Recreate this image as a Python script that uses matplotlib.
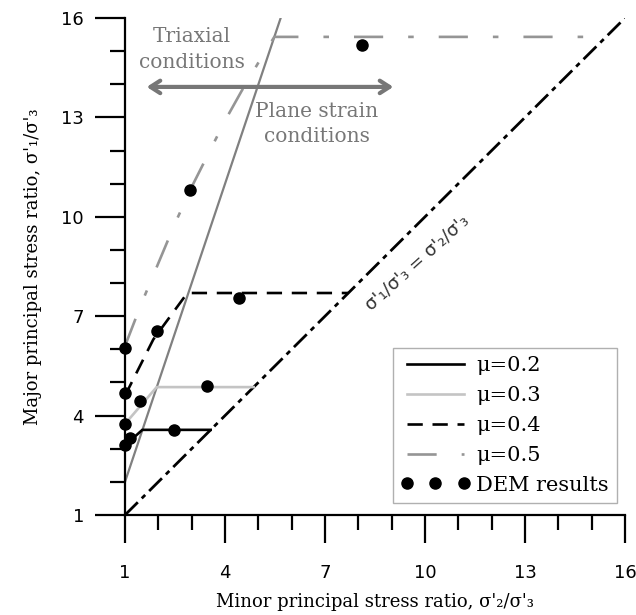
import matplotlib
matplotlib.use("Agg")
import matplotlib.pyplot as plt
from matplotlib.ticker import FixedLocator

plt.rcParams['lines.scale_dashes'] = False

# ---- data ----
diag_x = [1.0, 16.0]
diag_y = [1.0, 16.0]
ps_x = [1.0, 5.67]
ps_y = [2.0, 16.0]

mu02_x = [1.0, 1.52, 3.57]
mu02_y = [3.1, 3.57, 3.57]
mu03_x = [1.0, 1.95, 4.86]
mu03_y = [3.75, 4.86, 4.86]
mu04_x = [1.0, 1.85, 2.87, 7.7]
mu04_y = [4.6, 6.3, 7.7, 7.7]
mu05_x = [1.0, 1.5, 2.0, 2.5, 3.0, 3.5, 4.0, 4.5, 5.0, 5.48, 15.43]
mu05_y = [6.1, 7.4, 8.6, 9.8, 10.9, 11.9, 12.9, 13.8, 14.65, 15.43, 15.43]

dem_x = [1.0, 1.15, 1.0, 1.45, 1.0, 1.0, 1.96, 2.47, 3.46, 4.42, 2.95, 8.11]
dem_y = [3.1, 3.32, 3.75, 4.44, 4.68, 6.04, 6.55, 3.57, 4.9, 7.55, 10.81, 15.19]

major_ticks = [1, 4, 7, 10, 13, 16]
minor_ticks = list(range(1, 17))

serif = ['DejaVu Serif']
sans = ['DejaVu Sans']

fig = plt.figure(figsize=(6.36, 6.15), dpi=100)
ax = fig.add_axes([125/636, 100/615, 500/636, 497/615])

ax.plot(diag_x, diag_y, color='black', lw=2.0, linestyle=(0, (13, 4, 3.5, 4)),
        solid_capstyle='butt', dash_capstyle='butt')
ax.plot(ps_x, ps_y, color='#808080', lw=1.6)

ax.plot(mu02_x, mu02_y, color='black', lw=1.9, label='μ=0.2')
ax.plot(mu03_x, mu03_y, color='#c4c4c4', lw=1.9, label='μ=0.3')
ax.plot(mu04_x, mu04_y, color='black', lw=1.9, linestyle=(0, (11, 7)),
        dash_capstyle='butt', label='μ=0.4')
ax.plot(mu05_x, mu05_y, color='#959595', lw=1.9, linestyle=(0, (21, 18, 4, 18)),
        dash_capstyle='butt', label='μ=0.5')
ax.plot(dem_x, dem_y, 'o', color='black', markersize=8, linestyle='none',
        label='DEM results', clip_on=False, zorder=5)

ax.set_xlim(1, 16)
ax.set_ylim(1, 16)
for s in ['top', 'right']:
    ax.spines[s].set_visible(False)
for s in ['left', 'bottom']:
    ax.spines[s].set_linewidth(1.6)

ax.xaxis.set_major_locator(FixedLocator(major_ticks))
ax.yaxis.set_major_locator(FixedLocator(major_ticks))
ax.xaxis.set_minor_locator(FixedLocator(minor_ticks))
ax.yaxis.set_minor_locator(FixedLocator(minor_ticks))
ax.tick_params(axis='x', which='major', direction='out', length=20, width=1.6, pad=15, labelsize=13)
ax.tick_params(axis='x', which='minor', direction='out', length=11, width=1.6)
ax.tick_params(axis='y', which='major', direction='out', length=21.5, width=1.6, pad=8, labelsize=13)
ax.tick_params(axis='y', which='minor', direction='out', length=11, width=1.6)
for lab in ax.get_xticklabels() + ax.get_yticklabels():
    lab.set_family(sans)

ax.set_xlabel("Minor principal stress ratio, σ'₂/σ'₃", family=serif, fontsize=13, labelpad=8)
ax.set_ylabel("Major principal stress ratio, σ'₁/σ'₃", family=serif, fontsize=13, labelpad=14)

# annotations
ax.annotate('', xy=(1.65, 13.92), xytext=(9.05, 13.92),
            arrowprops=dict(arrowstyle='<->,head_length=0.7,head_width=0.45',
                            color='#777777', lw=3, shrinkA=0, shrinkB=0))
ax.text(3.0, 15.06, 'Triaxial\nconditions', family=serif, fontsize=14.5, color='#777777',
        ha='center', va='center', linespacing=1.45)
ax.text(6.76, 12.8, 'Plane strain\nconditions', family=serif, fontsize=14.5, color='#777777',
        ha='center', va='center', linespacing=1.38)
ax.text(9.75, 8.62, "σ'₁/σ'₃ = σ'₂/σ'₃", family=sans, fontsize=13, color='#333333',
        ha='center', va='center', rotation=42, rotation_mode='anchor')

leg = ax.legend(loc='lower right', bbox_to_anchor=(0.984, 0.024), numpoints=3,
                prop={'family': serif, 'size': 15}, handlelength=3.3, handletextpad=0.3,
                labelspacing=0.52, borderpad=0.4, borderaxespad=0, fancybox=False,
                framealpha=1, edgecolor='#b0b0b0')
leg.get_frame().set_linewidth(1.0)

fig.savefig('out.png', dpi=100)
